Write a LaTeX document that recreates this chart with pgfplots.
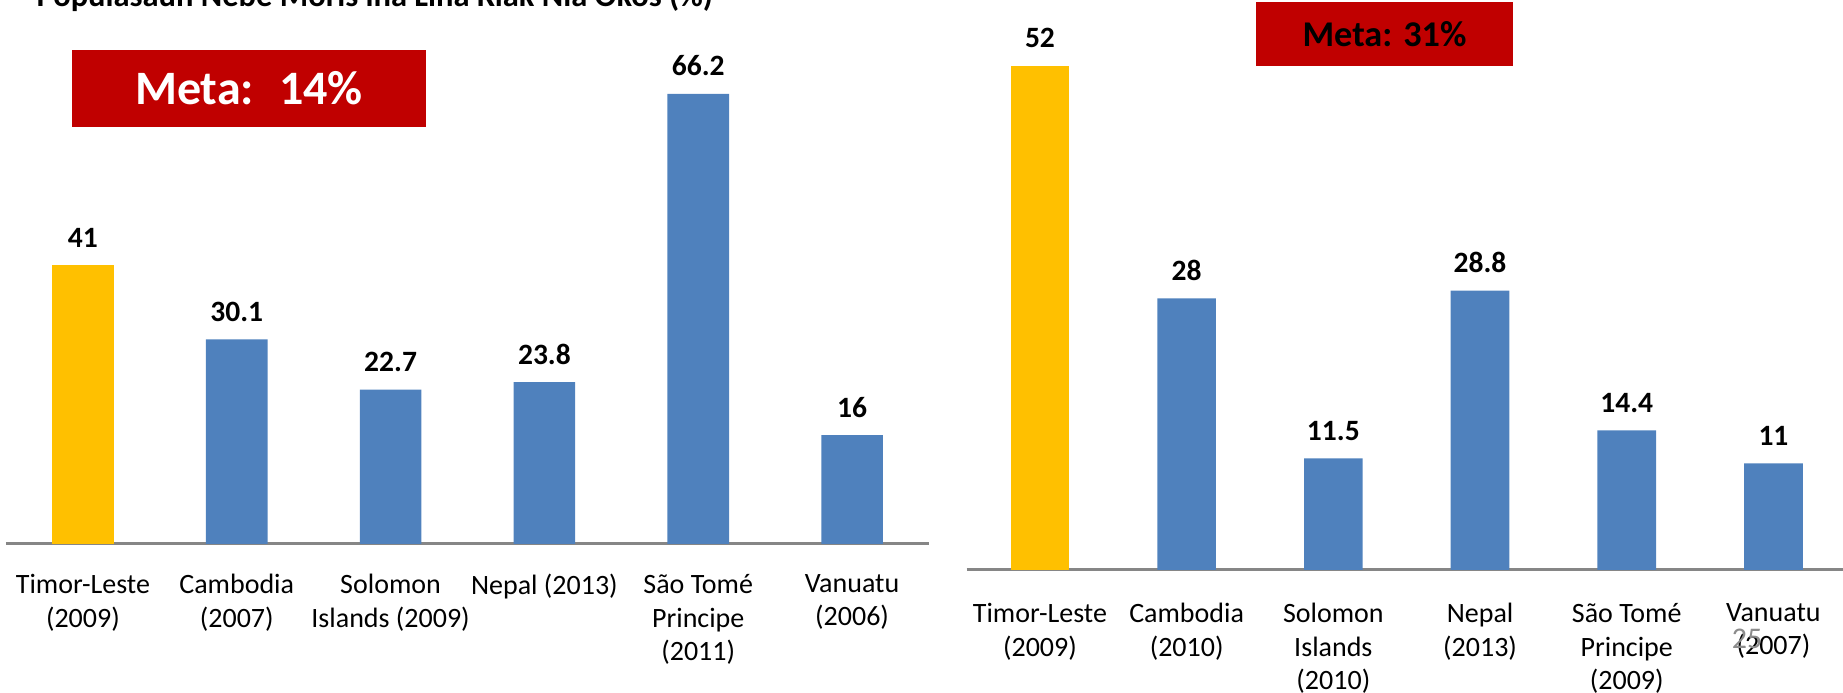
\documentclass[border=0pt]{standalone}
\usepackage{pgfplots}
\pgfplotsset{compat=1.18}
\usepackage{fontspec}
\setmainfont{Carlito}

\definecolor{barblue}{RGB}{79,129,189}
\definecolor{bargold}{RGB}{255,192,0}
\definecolor{metared}{RGB}{192,0,0}
\definecolor{axisgray}{RGB}{134,134,134}
\definecolor{pagegray}{RGB}{140,140,140}

\pgfplotsset{
  bars/.style={
    ybar, bar width=0.4,
    xmin=-0.5, xmax=5.5, ymin=0, xtick={0,...,5},
    scale only axis, anchor=south west, clip=false,
    axis x line*=bottom, axis y line=none,
    x axis line style={-, draw=axisgray, line width=1.2pt},
    xtick style={draw=none}, ytick=\empty,
    xticklabel style={align=center, font=\fontsize{11.2}{13.4}\selectfont, yshift=-4.4pt},
    nodes near coords,
    every node near coord/.append style={font=\fontsize{11.8}{14}\selectfont\bfseries, black, yshift=3.6pt},
    /pgf/number format/assume math mode=true,
  },
}

\begin{document}
\begin{tikzpicture}
% left chart
\begin{axis}[bars, at={(2.4pt,59.6pt)}, width=369.2pt, height=217.6pt, ymax=80,
  xticklabels={{Timor-Leste\\(2009)},{Cambodia\\(2007)},{Solomon\\Islands (2009)},{Nepal (2013)},{São Tomé\\Principe\\(2011)},{Vanuatu\\(2006)}}]
\addplot[fill=bargold, draw=none, bar shift=0pt] coordinates {(0,41)};
\addplot[fill=barblue, draw=none, bar shift=0pt] coordinates {(1,30.1) (2,22.7) (3,23.8) (4,66.2) (5,16)};
\end{axis}
% right chart
\begin{axis}[bars, at={(386.64pt,49.2pt)}, width=352.08pt, height=228pt, ymax=58.76,
  xticklabel style={yshift=-1.2pt},
  xticklabels={{Timor-Leste\\(2009)},{Cambodia\\(2010)},{Solomon\\Islands\\(2010)},{Nepal\\(2013)},{São Tomé\\Principe\\(2009)},{Vanuatu\\(2007)}}]
\addplot[fill=bargold, draw=none, bar shift=0pt] coordinates {(0,52)};
\addplot[fill=barblue, draw=none, bar shift=0pt] coordinates {(1,28) (2,11.5) (3,28.8) (4,14.4) (5,11)};
\end{axis}
% target boxes
\fill[metared] (28.8pt,226.4pt) rectangle (170.4pt,257.2pt);
\node[white, font=\fontsize{19.2}{22}\selectfont\bfseries] at (99.6pt,241.8pt) {Meta:~ 14\%};
\fill[metared] (502.4pt,250.9pt) rectangle (605.2pt,276.3pt);
\node[black, font=\fontsize{14.5}{17}\selectfont\bfseries] at (553.8pt,263.6pt) {Meta: 31\%};
% cut-off title and slide number
\node[anchor=base west, inner sep=0pt, font=\fontsize{13}{15}\selectfont\bfseries] at (14.4pt,274.4pt) {Populasaun Nebe Moris iha Liña Kiak Nia Okos (\%)};
\node[pagegray, font=\fontsize{12}{14}\selectfont] at (698.8pt,21.6pt) {25};
\pgfresetboundingbox
\path[use as bounding box] (0,0) rectangle (737.2pt,277.2pt);
\end{tikzpicture}
\end{document}
